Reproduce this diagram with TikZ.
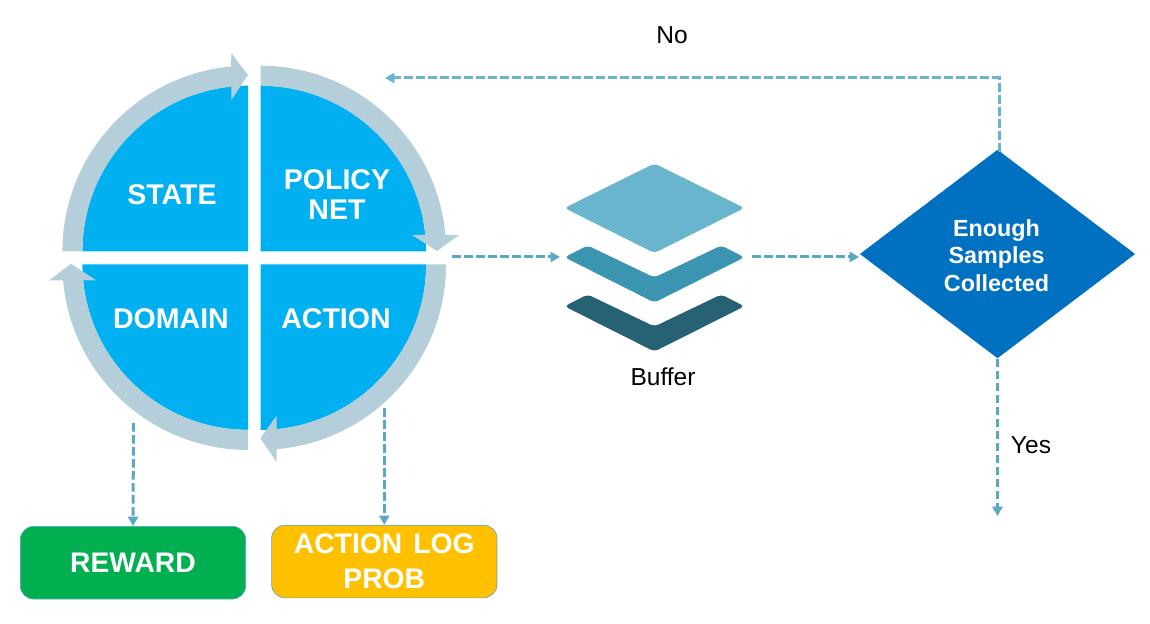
\documentclass[tikz,border=0pt]{standalone}
\usepackage{fontspec}
\setmainfont{Liberation Sans}
\usetikzlibrary{arrows.meta,shapes.geometric}
\definecolor{quadblue}{HTML}{00B0F0}
\definecolor{ringgrey}{HTML}{B4CFDA}
\definecolor{flowteal}{HTML}{5AA9C2}
\definecolor{layerone}{HTML}{6AB5CE}
\definecolor{layertwo}{HTML}{3B94B0}
\definecolor{layerthree}{HTML}{276274}
\definecolor{rewardgreen}{HTML}{00B050}
\definecolor{probyellow}{HTML}{FFC000}
\definecolor{decisionblue}{HTML}{0070C0}
\def\routr{139.2pt}
\def\rinr{124.2pt}
\tikzset{
  quad/.style={fill=quadblue},
  ringarrow/.style={fill=ringgrey},
  stagetext/.style={text=white,align=center,font=\bfseries\fontsize{21.4}{22.5}\selectfont},
  outbox/.style={draw=flowteal,line width=0.5pt,rounded corners=10pt,minimum width=169pt,minimum height=54.5pt,inner sep=0pt,text=white,align=center,font=\bfseries\fontsize{21.2}{26}\selectfont},
  flow/.style={-{Triangle[length=7pt,width=7.5pt]},flowteal,line width=2.25pt,dash pattern=on 6.4pt off 2.6pt},
  plainlabel/.style={font=\fontsize{18.4}{20}\selectfont},
  layer/.style={rounded corners=3pt}
}
\begin{document}
\begin{tikzpicture}[x=0.75pt,y=0.75pt,yscale=-1]
  \useasboundingbox (0,0) rectangle (1150,624);

  % Quadrants
  \fill[quad] (260.5,251.3) -- (426.1,251.3) arc[start angle=0,end angle=-90,radius=\rinr] -- cycle;
  \fill[quad] (248,251.3) -- (82.4,251.3) arc[start angle=180,end angle=270,radius=\rinr] -- cycle;
  \fill[quad] (248,264.3) -- (248,429.9) arc[start angle=90,end angle=180,radius=\rinr] -- cycle;
  \fill[quad] (260.5,264.3) -- (426.1,264.3) arc[start angle=0,end angle=90,radius=\rinr] -- cycle;

  % Ring arrows
  \fill[ringarrow] (260.5,65.7) arc[start angle=-90,end angle=-5,radius=\routr] -- (459,235) -- (437,251) -- (412,235) -- (425.3,235) arc[start angle=-5.7,end angle=-90,radius=\rinr] -- cycle;
  \fill[ringarrow] (446.1,264.3) arc[start angle=0,end angle=85,radius=\routr] -- (276.7,462) -- (260.3,438.3) -- (276.7,415.7) -- (276.7,429.1) arc[start angle=84.4,end angle=0,radius=\rinr] -- cycle;
  \fill[ringarrow] (248,449.9) arc[start angle=90,end angle=175,radius=\routr] -- (49.3,280.3) -- (71,263.7) -- (96,280.3) -- (83,280.3) arc[start angle=174.4,end angle=90,radius=\rinr] -- cycle;
  \fill[ringarrow] (62.4,251.3) arc[start angle=180,end angle=264.8,radius=\routr] -- (231.3,53) -- (248,75) -- (231.3,100) -- (231.3,86.7) arc[start angle=264.2,end angle=180,radius=\rinr] -- cycle;

  % Stage labels
  \node[stagetext] (state) at (172,194.5) {STATE};
  \node[stagetext] (policy) at (337,195) {POLICY\\NET};
  \node[stagetext] (domain) at (171,318.5) {DOMAIN};
  \node[stagetext] (action) at (336,318.5) {ACTION};

  % Buffer layers
  \fill[layer,layerthree] (564.5,306.3) -- (587.6,294.5) -- (654.4,326.5) -- (721.2,294.5) -- (744.5,306.3) -- (654.4,351.5) -- cycle;
  \fill[layer,layertwo] (564.5,257.3) -- (587.6,245.5) -- (654.4,277.5) -- (721.2,245.5) -- (744.5,257.3) -- (654.4,302.5) -- cycle;
  \fill[layer,layerone] (564.5,208) -- (654.4,163.5) -- (744.5,208) -- (654.4,253) -- cycle;
  \node[plainlabel] (buffer) at (663,377) {Buffer};

  % Decision
  \node[diamond,aspect=1.32,fill=decisionblue,minimum width=206.5pt,minimum height=156.5pt,inner sep=0pt] (decision) at (997.5,254) {};
  \node[text=white,align=center,font=\bfseries\fontsize{17.5}{20.6}\selectfont] (decisiontext) at (996.5,255.5) {Enough\\Samples\\Collected};
  \node[plainlabel] (no) at (672,35) {No};
  \node[plainlabel] (yes) at (1031,445) {Yes};

  % Outputs
  \node[outbox,fill=rewardgreen] (reward) at (133,562.7) {REWARD};
  \node[outbox,fill=probyellow] (logprob) at (384.3,561.5) {ACTION\hspace{2.5pt} LOG\\PROB};

  % Free ends
  \coordinate (cycleout) at (452,257);
  \coordinate (bufferin) at (560,257);
  \coordinate (bufferout) at (752,257);
  \coordinate (decisionin) at (859,257);
  \coordinate (nostart) at (999,152);
  \coordinate (backend) at (385,78);
  \coordinate (yesend) at (997.5,516);
  \coordinate (domainout) at (133.5,423);
  \coordinate (actionout) at (384.3,408);

  % Connections
  \draw[flow] (cycleout) -- (bufferin);
  \draw[flow] (bufferout) -- (decisionin);
  \draw[flow,layerone] (nostart) |- (backend);
  \draw[flow] (decision.south) -- (yesend);
  \draw[flow] (domainout) -- (reward.north);
  \draw[flow] (actionout) -- (logprob.north);
\end{tikzpicture}
\end{document}
